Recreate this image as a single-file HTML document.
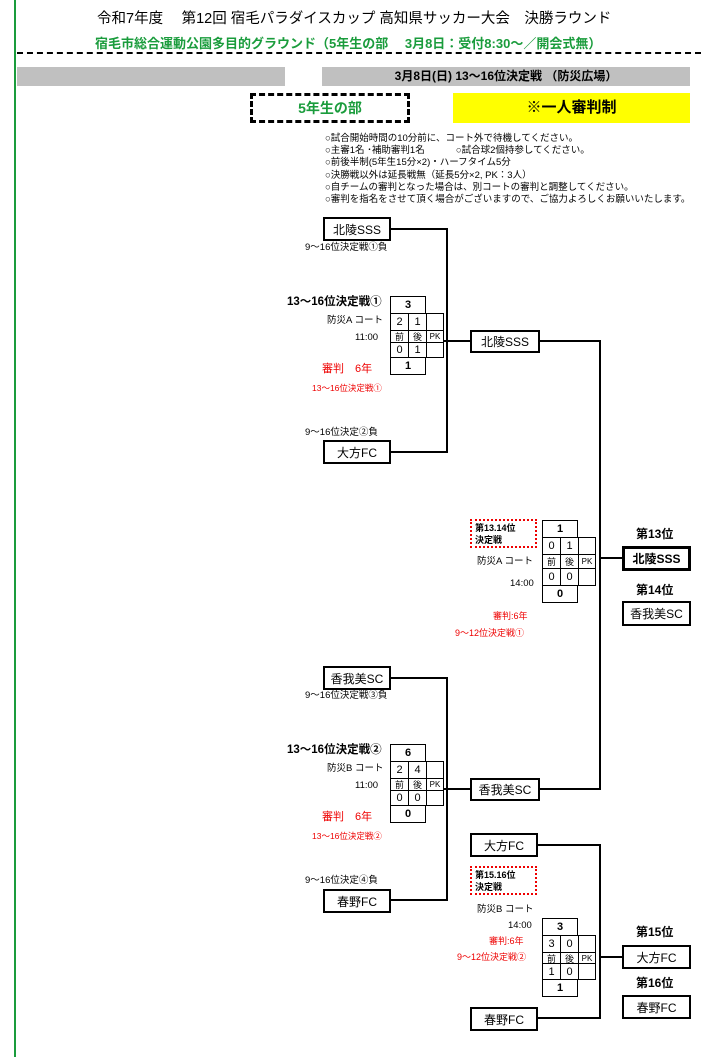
<!DOCTYPE html>
<html><head><meta charset="utf-8"><style>
body{margin:0;width:712px;height:1057px;background:#fff;position:relative;overflow:hidden;font-family:"Liberation Sans","Noto Sans CJK JP",sans-serif;color:#000}
div{position:absolute;box-sizing:border-box}
.t{white-space:nowrap;line-height:1}
.box{border:2px solid #000;background:#fff;text-align:center;font-size:12px;display:flex;align-items:center;justify-content:center}
.h{height:2px;background:#000}
.v{width:2px;background:#000}
.c{border:1px solid #000;text-align:center;font-size:11px;display:flex;align-items:center;justify-content:center;background:#fff}
.b{font-weight:bold}
.red{color:#e00}
.rd{border:2px dotted #e00;font-size:9px;font-weight:bold;padding:2px 3px;line-height:1.3}
</style></head><body>
<div style="left:14px;top:0;width:2px;height:1057px;background:#1a9c3c"></div>
<div class="t" style="left:97px;top:12px;font-size:14.5px">令和7年度　 第12回 宿毛パラダイスカップ 高知県サッカー大会　決勝ラウンド</div>
<div class="t b" style="left:95px;top:37px;font-size:13px;color:#1a9c3c">宿毛市総合運動公園多目的グラウンド（5年生の部　 3月8日：受付8:30～／開会式無）</div>
<div style="left:17px;top:52px;width:684px;height:0;border-top:2.5px dashed #000"></div>
<div style="left:17px;top:67px;width:268px;height:19px;background:#c0c0c0"></div>
<div style="left:322px;top:67px;width:368px;height:19px;background:#c0c0c0;font-size:12px;font-weight:bold;text-align:center;line-height:19px">3月8日(日)  13～16位決定戦 （防災広場）</div>
<div style="left:250px;top:93px;width:160px;height:30px;border:3px dashed #000;color:#1a9c3c;font-weight:bold;font-size:14px;text-align:center;line-height:24px">5年生の部</div>
<div style="left:453px;top:93px;width:237px;height:30px;background:#ffff00;font-weight:bold;font-size:15px;text-align:center;line-height:30px">※一人審判制</div>
<div class="t" style="left:325px;top:133px;font-size:9.5px;line-height:12.2px">○試合開始時間の10分前に、コート外で待機してください。<br>○主審1名 ･補助審判1名　　　 ○試合球2個持参してください。<br>○前後半制(5年生15分×2)・ハーフタイム5分<br>○決勝戦以外は延長戦無（延長5分×2, PK：3人）<br>○自チームの審判となった場合は、別コートの審判と調整してください。<br>○審判を指名をさせて頂く場合がございますので、ご協力よろしくお願いいたします。</div>

<!-- bracket 1 -->
<div class="h" style="left:390px;top:228px;width:58px"></div>
<div class="v" style="left:446px;top:228px;height:225px"></div>
<div class="h" style="left:390px;top:451px;width:58px"></div>
<div class="h" style="left:426px;top:340px;width:46px"></div>
<div class="box" style="left:323px;top:217px;width:68px;height:24px">北陵SSS</div>
<div class="t" style="left:305px;top:243px;font-size:9.5px">9～16位決定戦①負</div>
<div class="t" style="left:305px;top:428px;font-size:9.5px">9～16位決定②負</div>
<div class="box" style="left:323px;top:440px;width:68px;height:24px">大方FC</div>
<div class="t b" style="left:287px;top:297px;font-size:11.5px">13～16位決定戦①</div>
<div class="t" style="left:327px;top:316px;font-size:9.5px">防災A  コート</div>
<div class="t" style="left:355px;top:333px;font-size:9.5px">11:00</div>
<div class="t red" style="left:322px;top:364px;font-size:11px">審判　6年</div>
<div class="t red" style="left:312px;top:384px;font-size:8.5px">13～16位決定戦①</div>
<div class="c b" style="left:390px;top:296px;width:36px;height:18px">3</div>
<div class="c" style="left:390px;top:313px;width:19px;height:18px">2</div>
<div class="c" style="left:408px;top:313px;width:19px;height:18px">1</div>
<div class="c" style="left:426px;top:313px;width:18px;height:18px"></div>
<div class="c" style="left:390px;top:330px;width:19px;height:13px;font-size:9px">前</div>
<div class="c" style="left:408px;top:330px;width:19px;height:13px;font-size:9px">後</div>
<div class="c" style="left:426px;top:330px;width:18px;height:13px;font-size:8px">PK</div>
<div class="c" style="left:390px;top:342px;width:19px;height:16px">0</div>
<div class="c" style="left:408px;top:342px;width:19px;height:16px">1</div>
<div class="c" style="left:426px;top:342px;width:18px;height:16px"></div>
<div class="c b" style="left:390px;top:357px;width:36px;height:18px">1</div>
<div class="box" style="left:470px;top:330px;width:70px;height:23px">北陵SSS</div>

<!-- bracket 2 -->
<div class="h" style="left:390px;top:677px;width:58px"></div>
<div class="v" style="left:446px;top:677px;height:224px"></div>
<div class="h" style="left:390px;top:899px;width:58px"></div>
<div class="h" style="left:426px;top:788px;width:46px"></div>
<div class="box" style="left:323px;top:666px;width:68px;height:24px">香我美SC</div>
<div class="t" style="left:305px;top:691px;font-size:9.5px">9～16位決定戦③負</div>
<div class="t" style="left:305px;top:876px;font-size:9.5px">9～16位決定④負</div>
<div class="box" style="left:323px;top:889px;width:68px;height:24px">春野FC</div>
<div class="t b" style="left:287px;top:745px;font-size:11.5px">13～16位決定戦②</div>
<div class="t" style="left:327px;top:764px;font-size:9.5px">防災B  コート</div>
<div class="t" style="left:355px;top:781px;font-size:9.5px">11:00</div>
<div class="t red" style="left:322px;top:812px;font-size:11px">審判　6年</div>
<div class="t red" style="left:312px;top:832px;font-size:8.5px">13～16位決定戦②</div>
<div class="c b" style="left:390px;top:744px;width:36px;height:18px">6</div>
<div class="c" style="left:390px;top:761px;width:19px;height:18px">2</div>
<div class="c" style="left:408px;top:761px;width:19px;height:18px">4</div>
<div class="c" style="left:426px;top:761px;width:18px;height:18px"></div>
<div class="c" style="left:390px;top:778px;width:19px;height:13px;font-size:9px">前</div>
<div class="c" style="left:408px;top:778px;width:19px;height:13px;font-size:9px">後</div>
<div class="c" style="left:426px;top:778px;width:18px;height:13px;font-size:8px">PK</div>
<div class="c" style="left:390px;top:790px;width:19px;height:16px">0</div>
<div class="c" style="left:408px;top:790px;width:19px;height:16px">0</div>
<div class="c" style="left:426px;top:790px;width:18px;height:16px"></div>
<div class="c b" style="left:390px;top:805px;width:36px;height:18px">0</div>
<div class="box" style="left:470px;top:778px;width:70px;height:23px">香我美SC</div>

<!-- final 13/14 -->
<div class="h" style="left:540px;top:340px;width:61px"></div>
<div class="v" style="left:599px;top:340px;height:450px"></div>
<div class="h" style="left:540px;top:788px;width:61px"></div>
<div class="h" style="left:599px;top:557px;width:24px"></div>
<div class="rd" style="left:470px;top:519px;width:67px;height:29px">第13.14位<br>決定戦</div>
<div class="t" style="left:477px;top:557px;font-size:9.5px">防災A  コート</div>
<div class="t" style="left:510px;top:579px;font-size:9.5px">14:00</div>
<div class="t red" style="left:493px;top:612px;font-size:9px">審判:6年</div>
<div class="t red" style="left:455px;top:629px;font-size:9px">9～12位決定戦①</div>
<div class="c b" style="left:542px;top:520px;width:36px;height:18px">1</div>
<div class="c" style="left:542px;top:537px;width:19px;height:18px">0</div>
<div class="c" style="left:560px;top:537px;width:19px;height:18px">1</div>
<div class="c" style="left:578px;top:537px;width:18px;height:18px"></div>
<div class="c" style="left:542px;top:554px;width:19px;height:15px;font-size:9px">前</div>
<div class="c" style="left:560px;top:554px;width:19px;height:15px;font-size:9px">後</div>
<div class="c" style="left:578px;top:554px;width:18px;height:15px;font-size:8px">PK</div>
<div class="c" style="left:542px;top:568px;width:19px;height:18px">0</div>
<div class="c" style="left:560px;top:568px;width:19px;height:18px">0</div>
<div class="c" style="left:578px;top:568px;width:18px;height:18px"></div>
<div class="c b" style="left:542px;top:585px;width:36px;height:18px">0</div>
<div class="t b" style="left:636px;top:528px;font-size:12px">第13位</div>
<div class="box b" style="left:622px;top:546px;width:69px;height:25px;border-width:3px">北陵SSS</div>
<div class="t b" style="left:636px;top:584px;font-size:12px">第14位</div>
<div class="box" style="left:622px;top:601px;width:69px;height:25px">香我美SC</div>

<!-- final 15/16 -->
<div class="h" style="left:537px;top:844px;width:64px"></div>
<div class="v" style="left:599px;top:844px;height:175px"></div>
<div class="h" style="left:537px;top:1017px;width:64px"></div>
<div class="h" style="left:599px;top:956px;width:24px"></div>
<div class="box" style="left:470px;top:833px;width:68px;height:24px">大方FC</div>
<div class="rd" style="left:470px;top:866px;width:67px;height:29px">第15.16位<br>決定戦</div>
<div class="t" style="left:477px;top:905px;font-size:9.5px">防災B  コート</div>
<div class="t" style="left:508px;top:921px;font-size:9.5px">14:00</div>
<div class="t red" style="left:489px;top:937px;font-size:9px">審判:6年</div>
<div class="t red" style="left:457px;top:953px;font-size:9px">9～12位決定戦②</div>
<div class="c b" style="left:542px;top:918px;width:36px;height:18px">3</div>
<div class="c" style="left:542px;top:935px;width:19px;height:18px">3</div>
<div class="c" style="left:560px;top:935px;width:19px;height:18px">0</div>
<div class="c" style="left:578px;top:935px;width:18px;height:18px"></div>
<div class="c" style="left:542px;top:952px;width:19px;height:12px;font-size:9px">前</div>
<div class="c" style="left:560px;top:952px;width:19px;height:12px;font-size:9px">後</div>
<div class="c" style="left:578px;top:952px;width:18px;height:12px;font-size:8px">PK</div>
<div class="c" style="left:542px;top:963px;width:19px;height:17px">1</div>
<div class="c" style="left:560px;top:963px;width:19px;height:17px">0</div>
<div class="c" style="left:578px;top:963px;width:18px;height:17px"></div>
<div class="c b" style="left:542px;top:979px;width:36px;height:18px">1</div>
<div class="box" style="left:470px;top:1007px;width:68px;height:24px">春野FC</div>
<div class="t b" style="left:636px;top:926px;font-size:12px">第15位</div>
<div class="box" style="left:622px;top:945px;width:69px;height:24px">大方FC</div>
<div class="t b" style="left:636px;top:977px;font-size:12px">第16位</div>
<div class="box" style="left:622px;top:995px;width:69px;height:24px">春野FC</div>
</body></html>
